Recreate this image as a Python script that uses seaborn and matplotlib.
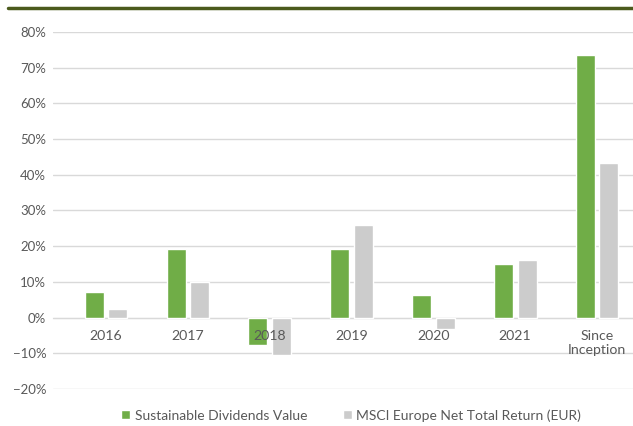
import numpy as np
import pandas as pd
import seaborn as sns
import matplotlib.pyplot as plt
from matplotlib.lines import Line2D
from matplotlib.ticker import PercentFormatter

periods = ['2016', '2017', '2018', '2019', '2020', '2021', 'Since\nInception']
fund = [7.2, 19.3, -7.6, 19.3, 6.4, 15.0, 73.6]
index = [2.5, 10.0, -10.4, 26.0, -3.2, 16.2, 43.3]
series = ['Sustainable Dividends Value', 'MSCI Europe Net Total Return (EUR)']

_df = pd.DataFrame({
    'period': periods * 2,
    'value': fund + index,
    'series': [series[0]] * len(periods) + [series[1]] * len(periods),
})

sns.set_style('white')
plt.rcParams['font.family'] = ['Lato', 'DejaVu Sans']
txt_col = '#595959'
grid_col = '#d9d9d9'

fig = plt.figure(figsize=(6.33, 4.26), dpi=100)
ax = fig.add_axes([0.084, 0.087, 0.916, 0.838])

sns.barplot(data=_df, x='period', y='value', hue='series', order=periods,
            hue_order=series, palette=['#70ad47', '#cccccc'],
            width=0.58, gap=0.2, saturation=1, ax=ax, legend=True)

ax.set_ylim(-20, 80)
ax.set_xlim(-0.647, 6.44)
ax.set_yticks(np.arange(-20, 81, 10))
ax.yaxis.set_major_formatter(PercentFormatter(decimals=0))
ax.yaxis.grid(True, color=grid_col, linewidth=1)
ax.set_axisbelow(True)
ax.xaxis.set_zorder(5)  # labels sit on top of the bars, like the original
for s in ['top', 'right', 'left']:
    ax.spines[s].set_visible(False)
ax.spines['bottom'].set_position(('data', 0))
ax.spines['bottom'].set_color(grid_col)
ax.spines['bottom'].set_zorder(0.5)
ax.tick_params(axis='both', length=0, colors=txt_col, labelsize=9.5)
ax.tick_params(axis='x', pad=9, labelsize=10.2)
ax.tick_params(axis='y', pad=5)
ax.set_xlabel('')
ax.set_ylabel('')

ax.legend_.remove()
fig.legend(*ax.get_legend_handles_labels(), loc='center', ncol=2,
           bbox_to_anchor=(0.555, 0.025), frameon=False, fontsize=10,
           handlelength=0.6, handleheight=0.6, handletextpad=0.35,
           columnspacing=2.6, labelcolor=txt_col)

# dark header rule
fig.add_artist(Line2D([0.013, 1.0], [0.981, 0.981], color='#4b5a1c',
                      linewidth=2.5, transform=fig.transFigure))

fig.savefig('out.png', dpi=100)
